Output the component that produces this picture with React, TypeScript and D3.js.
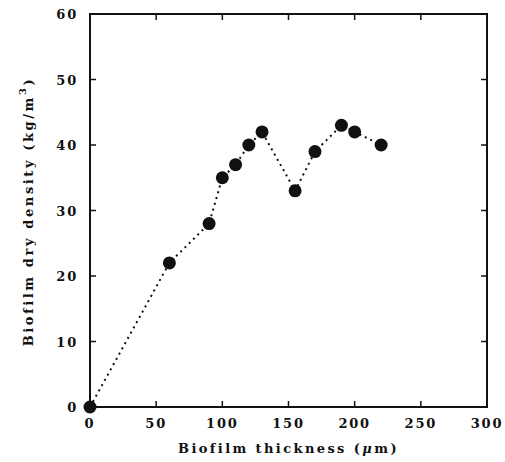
import React from "react";
import * as d3 from "d3";

const thickness = [0, 60, 90, 100, 110, 120, 130, 155, 170, 190, 200, 220];
const density = [0, 22, 28, 35, 37, 40, 42, 33, 39, 43, 42, 40];
const xTicks = [0, 50, 100, 150, 200, 250, 300];
const yTicks = [0, 10, 20, 30, 40, 50, 60];

export default function App() {
  const W = 505, H = 462;
  const m = { left: 90, right: 18, top: 14, bottom: 55 };
  const x = d3.scaleLinear().domain([0, 300]).range([m.left, W - m.right]);
  const y = d3.scaleLinear().domain([0, 60]).range([H - m.bottom, m.top]);
  const pts = thickness.map((t, i) => [t, density[i]] as [number, number]);
  const line = d3.line<[number, number]>().x(d => x(d[0])).y(d => y(d[1]));
  const font = "'DejaVu Serif', serif";
  const x0 = x(0), x1 = x(300), y0 = y(0), y1 = y(60);
  return (
    <svg width={W} height={H} style={{ position: "absolute", left: 0, top: 0, background: "#fff" }}>
      <path d={line(pts) || ""} fill="none" stroke="#111" strokeWidth={2} strokeDasharray="2,4" />
      <rect x={x0} y={y1} width={x1 - x0} height={y0 - y1} fill="none" stroke="#111" strokeWidth={2} />
      {xTicks.slice(1, -1).map(t => (
        <g key={"xt" + t}>
          <line x1={x(t)} x2={x(t)} y1={y0} y2={y0 - 6} stroke="#111" strokeWidth={1.5} />
          <line x1={x(t)} x2={x(t)} y1={y1} y2={y1 + 6} stroke="#111" strokeWidth={1.5} />
        </g>
      ))}
      {yTicks.slice(1, -1).map(t => (
        <g key={"yt" + t}>
          <line x1={x0} x2={x0 + 6} y1={y(t)} y2={y(t)} stroke="#111" strokeWidth={1.5} />
          <line x1={x1} x2={x1 - 6} y1={y(t)} y2={y(t)} stroke="#111" strokeWidth={1.5} />
        </g>
      ))}
      {xTicks.map(t => (
        <text key={"xl" + t} x={x(t)} y={y0 + 21} textAnchor="middle" fontFamily={font} fontWeight="bold" fontSize={13} letterSpacing={1.8} fill="#111">{t}</text>
      ))}
      {yTicks.map(t => (
        <text key={"yl" + t} x={x0 - 12} y={y(t) + 5} textAnchor="end" fontFamily={font} fontWeight="bold" fontSize={13} letterSpacing={1.8} fill="#111">{t}</text>
      ))}
      {pts.map((d, i) => (
        <circle key={"p" + i} cx={x(d[0])} cy={y(d[1])} r={6.5} fill="#111" />
      ))}
      <text x={(x0 + x1) / 2} y={453} textAnchor="middle" fontFamily={font} fontWeight="bold" fontSize={13} letterSpacing={2.4} fill="#111">
        Biofilm thickness (<tspan fontStyle="italic">μ</tspan>m)
      </text>
      <text transform={`translate(33,${(y0 + y1) / 2 + 1}) rotate(-90)`} textAnchor="middle" fontFamily={font} fontWeight="bold" fontSize={13} letterSpacing={2.6} fill="#111">
        Biofilm dry density (kg/m<tspan dy={-7} fontSize={10}>3</tspan><tspan dy={7}>)</tspan>
      </text>
    </svg>
  );
}
